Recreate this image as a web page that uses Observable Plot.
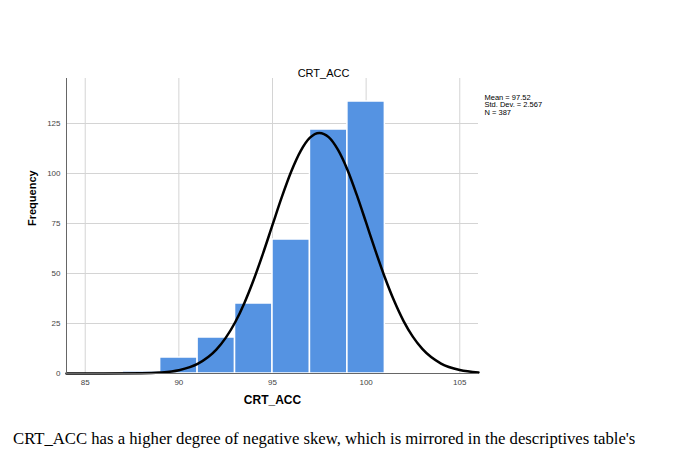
<!DOCTYPE html>
<html>
<head>
<meta charset="utf-8">
<script src="https://cdn.jsdelivr.net/npm/d3@7"></script>
<script src="https://cdn.jsdelivr.net/npm/@observablehq/plot@0.6"></script>
<style>
  html, body { margin: 0; padding: 0; background: #fff; }
  body { position: relative; width: 680px; height: 453px; overflow: hidden; }
  #caption { position: absolute; left: 13px; top: 429px; font-family: "Liberation Serif", "Times New Roman", serif; font-size: 16.7px; line-height: 20px; color: #000; white-space: nowrap; }
</style>
</head>
<body>
<div id="chart"></div>
<div id="caption">CRT_ACC has a higher degree of negative skew, which is mirrored in the descriptives table's</div>
<script>
const binStart = [87, 89, 91, 93, 95, 97, 99];
const binEnd   = [89, 91, 93, 95, 97, 99, 101];
const frequency = [1, 8, 18, 35, 67, 122, 136];

const curveX = [84, 86, 88, 89, 90, 91, 92, 92.5, 93, 93.5, 94, 94.5, 95, 95.5, 96, 96.5, 97, 97.5, 98, 98.5, 99, 99.5, 100, 100.5, 101, 101.5, 102, 102.5, 103, 104, 105, 106];
const curveY = [0, 0.005, 0.12, 0.49, 1.65, 4.78, 11.9, 17.8, 25.5, 35.3, 47.0, 60.2, 74.3, 88.3, 101.0, 111.2, 117.9, 120.3, 118.2, 111.8, 101.9, 89.3, 75.4, 61.3, 48.0, 36.2, 26.2, 18.3, 12.3, 4.97, 1.72, 0.51];

const xTicks = [85, 90, 95, 100, 105];
const yTicks = [0, 25, 50, 75, 100, 125];
const statsLines = ["Mean = 97.52", "Std. Dev. = 2.567", "N = 387"];
const title = "CRT_ACC";

const bars = binStart.map((s, i) => ({x1: s, x2: binEnd[i], y: frequency[i]}));
const curve = curveX.map((x, i) => ({x, y: curveY[i]}));

const chart = Plot.plot({
  width: 680,
  height: 420,
  marginLeft: 66,
  marginRight: 202,
  marginTop: 78,
  marginBottom: 47,
  style: {fontFamily: "'Liberation Sans', Arial, sans-serif", background: "#fff"},
  x: {domain: [84, 106], ticks: xTicks, tickSize: 0, tickPadding: 6, label: null},
  y: {domain: [0, 147.5], ticks: yTicks, tickSize: 0, tickPadding: 6, label: null},
  marks: [
    Plot.gridX(xTicks, {stroke: "#d4d4d4", strokeOpacity: 1, strokeWidth: 1}),
    Plot.gridY(yTicks.filter(d => d > 0), {stroke: "#d4d4d4", strokeOpacity: 1, strokeWidth: 1}),
    Plot.rectY(bars, {x1: "x1", x2: "x2", y: "y", fill: "#5593e2", stroke: "#ffffff", strokeWidth: 1.5}),
    Plot.line(curve, {x: "x", y: "y", stroke: "#000", strokeWidth: 2.5, curve: "monotone-x"}),
    Plot.ruleX([84], {stroke: "#666", strokeWidth: 1}),
    Plot.ruleY([0], {stroke: "#666", strokeWidth: 1}),
    Plot.axisX(xTicks, {tickSize: 0, tickPadding: 6, fontSize: 8, fill: "#444", label: null}),
    Plot.axisY(yTicks, {tickSize: 0, tickPadding: 6, fontSize: 8, fill: "#444", label: null}),
    Plot.text([title], {frameAnchor: "top", dy: -9, dx: 51, fontSize: 11, fill: "#000"}),
    Plot.text(["CRT_ACC"], {frameAnchor: "bottom", dy: 30, fontSize: 12, fontWeight: "bold", fill: "#000"}),
    Plot.text(["Frequency"], {frameAnchor: "left", dx: -34, rotate: -90, fontSize: 11, fontWeight: "bold", fill: "#000"}),
    Plot.text([statsLines.join("\n")], {frameAnchor: "top-right", dx: 6, dy: 16, textAnchor: "start", lineHeight: 1.0, fontSize: 7.5, fill: "#000"})
  ]
});
document.getElementById("chart").appendChild(chart);
</script>
</body>
</html>
